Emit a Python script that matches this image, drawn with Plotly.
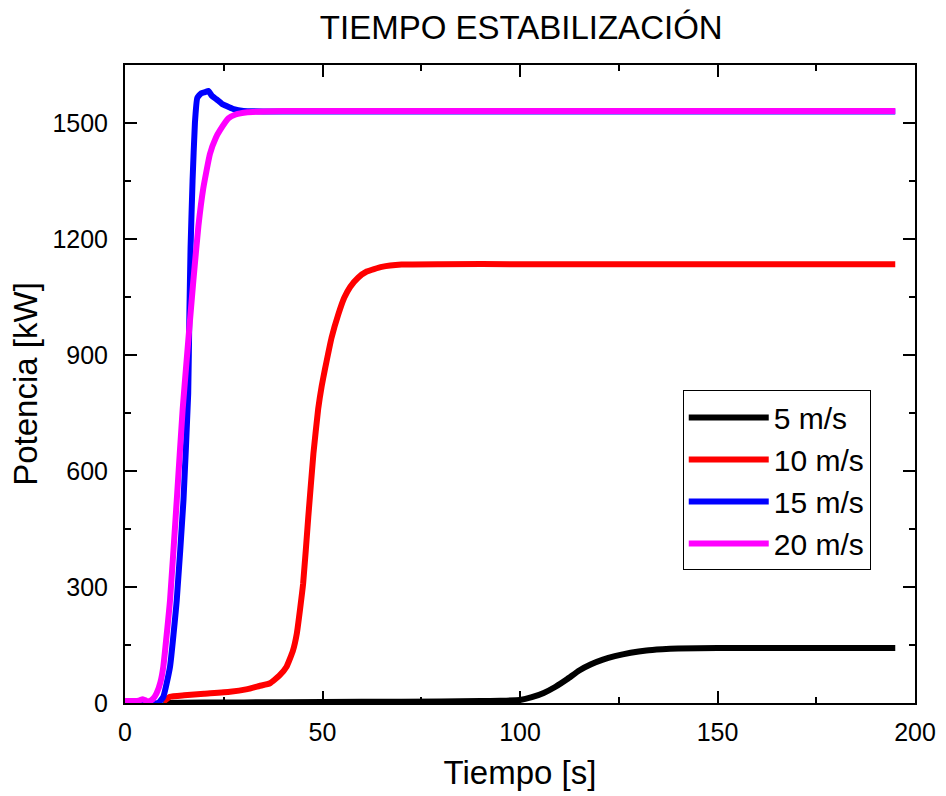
import plotly.graph_objects as go

t5 = [9.7, 20, 40, 60, 80, 90, 95, 100, 103, 106, 109, 112, 115, 118, 121, 124, 128, 132, 136, 140, 150, 160, 175, 195]
p5 = [0, 1, 2, 3, 4, 5, 6, 8, 15, 26, 42, 62, 84, 100, 112, 121, 130, 136, 139, 141, 142, 142, 142, 142]

t10 = [9.7, 11.4, 15, 20, 26.6, 31, 34, 36.7, 39, 40.9, 42.5, 43.5, 45.1, 46.4, 47.7, 48.9, 49.8, 50.6, 52.3, 54, 55.5, 57, 59, 61.2, 65, 70, 80, 100, 195]
p10 = [3, 16, 20, 24, 29, 36, 44, 51, 70, 94, 135, 180, 309, 481, 645, 760, 820, 862, 945, 1005, 1048, 1076, 1100, 1116, 1128, 1134, 1135, 1135, 1135]

t15 = [0, 4, 8.4, 9.7, 11.4, 13.1, 14.8, 16.0, 16.3, 16.6, 17.1, 17.7, 18.3, 19.3, 20.3, 21.1, 22.0, 23.2, 24.5, 25.7, 27.5, 30, 35, 195]
p15 = [3, 3, 0, 16, 94, 266, 524, 800, 1007, 1178, 1350, 1500, 1565, 1577, 1580, 1583, 1570, 1561, 1550, 1544, 1536, 1531, 1530, 1530]

t20 = [0, 2, 3.5, 4.5, 5.5, 6.3, 7.2, 8.0, 9.0, 9.7, 11.4, 13.1, 14.6, 16.0, 17.3, 18.6, 19.8, 21.5, 23, 24.1, 26.2, 28, 31, 35, 40, 195]
p20 = [5, 5, 6, 10, 5, 5, 12, 25, 55, 94, 266, 524, 760, 935, 1092, 1235, 1330, 1420, 1462, 1482, 1512, 1522, 1528, 1530, 1531, 1531]

names = ["5 m/s", "10 m/s", "15 m/s", "20 m/s"]
colors = ["#000000", "#ff0000", "#0000ff", "#ff00ff"]
series = [(t5, p5), (t10, p10), (t15, p15), (t20, p20)]

FONT = "Arial, Liberation Sans, sans-serif"

fig = go.Figure()
for (t, p), n, c in zip(series, names, colors):
    fig.add_trace(go.Scatter(x=t, y=p, name=n, mode="lines",
                             line=dict(color=c, width=6, shape="spline", smoothing=0.4)))

axis_common = dict(
    showline=True, linecolor="black", linewidth=2, mirror="ticks",
    ticks="inside", ticklen=12, tickwidth=2, tickcolor="black",
    showgrid=False, zeroline=False, automargin=False,
    tickfont=dict(family=FONT, size=25, color="black"),
)

fig.update_layout(
    width=946, height=796,
    paper_bgcolor="white", plot_bgcolor="white",
    margin=dict(l=125, r=31, t=65, b=93, autoexpand=False),
    title=dict(text="TIEMPO ESTABILIZACIÓN", x=0.551, xanchor="center",
               y=0.966, yanchor="middle",
               font=dict(family=FONT, size=33, color="black")),
    xaxis=dict(range=[0, 200], tickvals=[0, 50, 100, 150, 200],
               minor=dict(dtick=25, ticks="inside", ticklen=6, tickwidth=2, tickcolor="black"),
               title=dict(text="Tiempo [s]", font=dict(family=FONT, size=33, color="black"), standoff=16),
               ticklabelstandoff=6,
               **axis_common),
    yaxis=dict(range=[0, 1650], tickvals=[0, 300, 600, 900, 1200, 1500],
               minor=dict(dtick=150, ticks="inside", ticklen=6, tickwidth=2, tickcolor="black"),
               title=dict(text="Potencia [kW]", font=dict(family=FONT, size=33, color="black"), standoff=5),
               ticklabelstandoff=10,
               **axis_common),
    legend=dict(x=0.706, y=0.49, xanchor="left", yanchor="top",
                bordercolor="black", borderwidth=1, bgcolor="white",
                font=dict(family=FONT, size=30, color="black"),
                itemwidth=80, tracegroupgap=0),
    showlegend=True,
)

fig.write_html("out.html", config={"displayModeBar": False},
               post_script="document.body.style.margin='0';")
